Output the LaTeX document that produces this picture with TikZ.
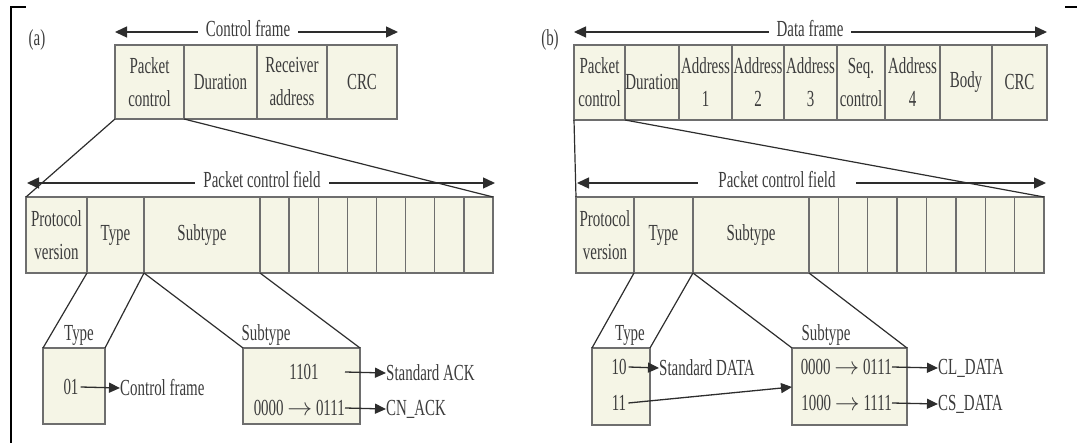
\documentclass[tikz,border=0pt]{standalone}
\usepackage{fontspec}
\setmainfont{Liberation Serif}[FakeStretch=0.65]
\usetikzlibrary{arrows.meta}
\definecolor{cellfill}{RGB}{245,245,230}
\definecolor{txt}{RGB}{60,60,60}
\definecolor{edge}{RGB}{110,110,110}
\definecolor{ink}{RGB}{45,45,45}
\tikzset{
  cell/.style={draw=edge, line width=1.3pt, fill=cellfill, inner sep=0pt, outer sep=0pt,
    anchor=north west, align=center, font=\fontsize{23}{33}\selectfont, text=txt},
  lbl/.style={font=\fontsize{23}{33}\selectfont, text=txt, inner sep=0pt},
  dimline/.style={draw=ink, line width=1.4pt,
    {Triangle[length=12pt,width=11pt]}-{Triangle[length=12pt,width=11pt]}},
  conn/.style={draw=ink, line width=1.2pt},
  arr/.style={draw=ink, line width=1.3pt, -{Triangle[length=11pt,width=10pt]}},
  mask/.style={lbl, fill=white, inner xsep=8pt, inner ysep=2pt},
  frameline/.style={draw=black, line width=2.5pt}
}
\begin{document}
\begin{tikzpicture}[x=1pt,y=-1pt]
\useasboundingbox (0,0) rectangle (1077,443);
% outer border fragments
\coordinate (fb1) at (11,443); \coordinate (fb2) at (11,7); \coordinate (fb3) at (26,7);
\coordinate (fb4) at (1065,7); \coordinate (fb5) at (1077,7);
\draw[frameline] (fb1) -- (fb2) -- (fb3);
\draw[frameline] (fb4) -- (fb5);

% ================= panel (a) =================
\node[lbl] (la) at (37,40) {(a)};
% control frame
\node[cell, minimum width=69pt, minimum height=74pt] (apc) at (115,45) {Packet\\control};
\node[cell, minimum width=73pt, minimum height=74pt] (adu) at (184,45) {Duration};
\node[cell, minimum width=70pt, minimum height=74pt] (ara) at (257,45) {Receiver\\address};
\node[cell, minimum width=70pt, minimum height=74pt] (acrc) at (327,45) {CRC};
\coordinate (acfL) at (115,32); \coordinate (acfR) at (398,32);
\draw[dimline] (acfL) -- (acfR);
\node[mask] (acft) at (248,29) {Control frame};

% packet control field
\node[cell, minimum width=61pt, minimum height=76pt] (apv) at (26,197) {Protocol\\version};
\node[cell, minimum width=57pt, minimum height=76pt] (aty) at (87,197) {Type};
\node[cell, minimum width=116pt, minimum height=76pt] (ast) at (144,197) {Subtype};
\foreach \i in {0,...,7}
  \node[cell, minimum width=29.125pt, minimum height=76pt] (af\i) at ({260+29.125*\i},197) {};
\coordinate (apfL) at (27,183); \coordinate (apfR) at (495,183);
\draw[dimline] (apfL) -- (apfR);
\node[mask] (apft) at (262,180) {Packet control field};

\draw[conn] (apc.south west) -- (apv.north west);
\draw[conn] (apc.south east) -- (af7.north east);

% type / subtype boxes
\node[cell, minimum width=62pt, minimum height=76pt] (atb) at (43,348) {};
\node[cell, minimum width=117pt, minimum height=76pt] (asb) at (243,348) {};
\node[lbl] (atbl) at (79,335) {Type};
\node[lbl] (asbl) at (266,335) {Subtype};
\draw[conn] (apv.south east) -- (atb.north west);
\draw[conn] (aty.south east) -- (atb.north east);
\draw[conn] (aty.south east) -- (asb.north west);
\draw[conn] (ast.south east) -- (asb.north east);

\node[lbl] (a01) at (71,387) {01};
\node[lbl, anchor=west] (acf) at (120,388) {Control frame};
\draw[arr] (a01.east) ++(2,0) coordinate (a01e) -- (acf.west);

\node[lbl] (a1101) at (304,372) {1101};
\node[lbl, anchor=west] (asack) at (386,373) {Standard ACK};
\coordinate (a1101e) at (345,372);
\draw[arr] (a1101e) -- (asack.west);
\node[lbl, anchor=east] (a0000) at (345,408) {0000 $\rightarrow$ 0111};
\node[lbl, anchor=west] (acnack) at (386,409) {CN\_ACK};
\draw[arr] (a0000.east) -- (acnack.west);

% ================= panel (b) =================
\node[lbl] (lb) at (550,40) {(b)};
\node[cell, minimum width=51pt, minimum height=75pt] (bpc) at (574,45) {Packet\\control};
\node[cell, minimum width=54pt, minimum height=75pt] (bdu) at (625,45) {Duration};
\node[cell, minimum width=53pt, minimum height=75pt] (ba1) at (679,45) {Address\\1};
\node[cell, minimum width=52pt, minimum height=75pt] (ba2) at (732,45) {Address\\2};
\node[cell, minimum width=53pt, minimum height=75pt] (ba3) at (784,45) {Address\\3};
\node[cell, minimum width=48pt, minimum height=75pt] (bsq) at (837,45) {Seq.\\control};
\node[cell, minimum width=55pt, minimum height=75pt] (ba4) at (885,45) {Address\\4};
\node[cell, minimum width=52pt, minimum height=75pt] (bbody) at (940,45) {Body};
\node[cell, minimum width=55pt, minimum height=75pt] (bcrc) at (992,45) {CRC};
\coordinate (bdfL) at (574,32); \coordinate (bdfR) at (1047,32);
\draw[dimline] (bdfL) -- (bdfR);
\node[mask] (bdft) at (810,29) {Data frame};

\node[cell, minimum width=58pt, minimum height=76pt] (bpv) at (576,197) {Protocol\\version};
\node[cell, minimum width=59pt, minimum height=76pt] (bty) at (634,197) {Type};
\node[cell, minimum width=116pt, minimum height=76pt] (bst) at (693,197) {Subtype};
\foreach \i in {0,...,7}
  \node[cell, minimum width=29.375pt, minimum height=76pt] (bf\i) at ({809+29.375*\i},197) {};
\coordinate (bpfL) at (577,183); \coordinate (bpfR) at (1046,183);
\draw[dimline] (bpfL) -- (bpfR);
\node[mask, inner xsep=20pt] (bpft) at (777,180) {Packet control field};

\draw[conn] (bpc.south west) -- (bpv.north west);
\draw[conn] (bpc.south east) -- (bf7.north east);

\node[cell, minimum width=58pt, minimum height=77pt] (btb) at (592,348) {};
\node[cell, minimum width=115pt, minimum height=77pt] (bsb) at (792,348) {};
\node[lbl] (btbl) at (630,335) {Type};
\node[lbl] (bsbl) at (826,335) {Subtype};
\draw[conn] (bpv.south east) -- (btb.north west);
\draw[conn] (bty.south east) -- (btb.north east);
\draw[conn] (bty.south east) -- (bsb.north west);
\draw[conn] (bst.south east) -- (bsb.north east);

\node[lbl] (b10) at (619,367) {10};
\node[lbl, anchor=west] (bsdata) at (659,368) {Standard DATA};
\draw[arr] (b10.east) ++(2,0) coordinate (b10e) -- (bsdata.west);
\node[lbl] (b11) at (619,403) {11};
\coordinate (bsbin) at (792,387);
\draw[arr] (b11.east) ++(2,0) coordinate (b11e) -- (bsbin);

\node[lbl, anchor=east] (b0000) at (892,367) {0000 $\rightarrow$ 0111};
\node[lbl, anchor=west] (bcl) at (938,368) {CL\_DATA};
\draw[arr] (b0000.east) -- (bcl.west);
\node[lbl, anchor=east] (b1000) at (892,403) {1000 $\rightarrow$ 1111};
\node[lbl, anchor=west] (bcs) at (938,404) {CS\_DATA};
\draw[arr] (b1000.east) -- (bcs.west);
\end{tikzpicture}
\end{document}
